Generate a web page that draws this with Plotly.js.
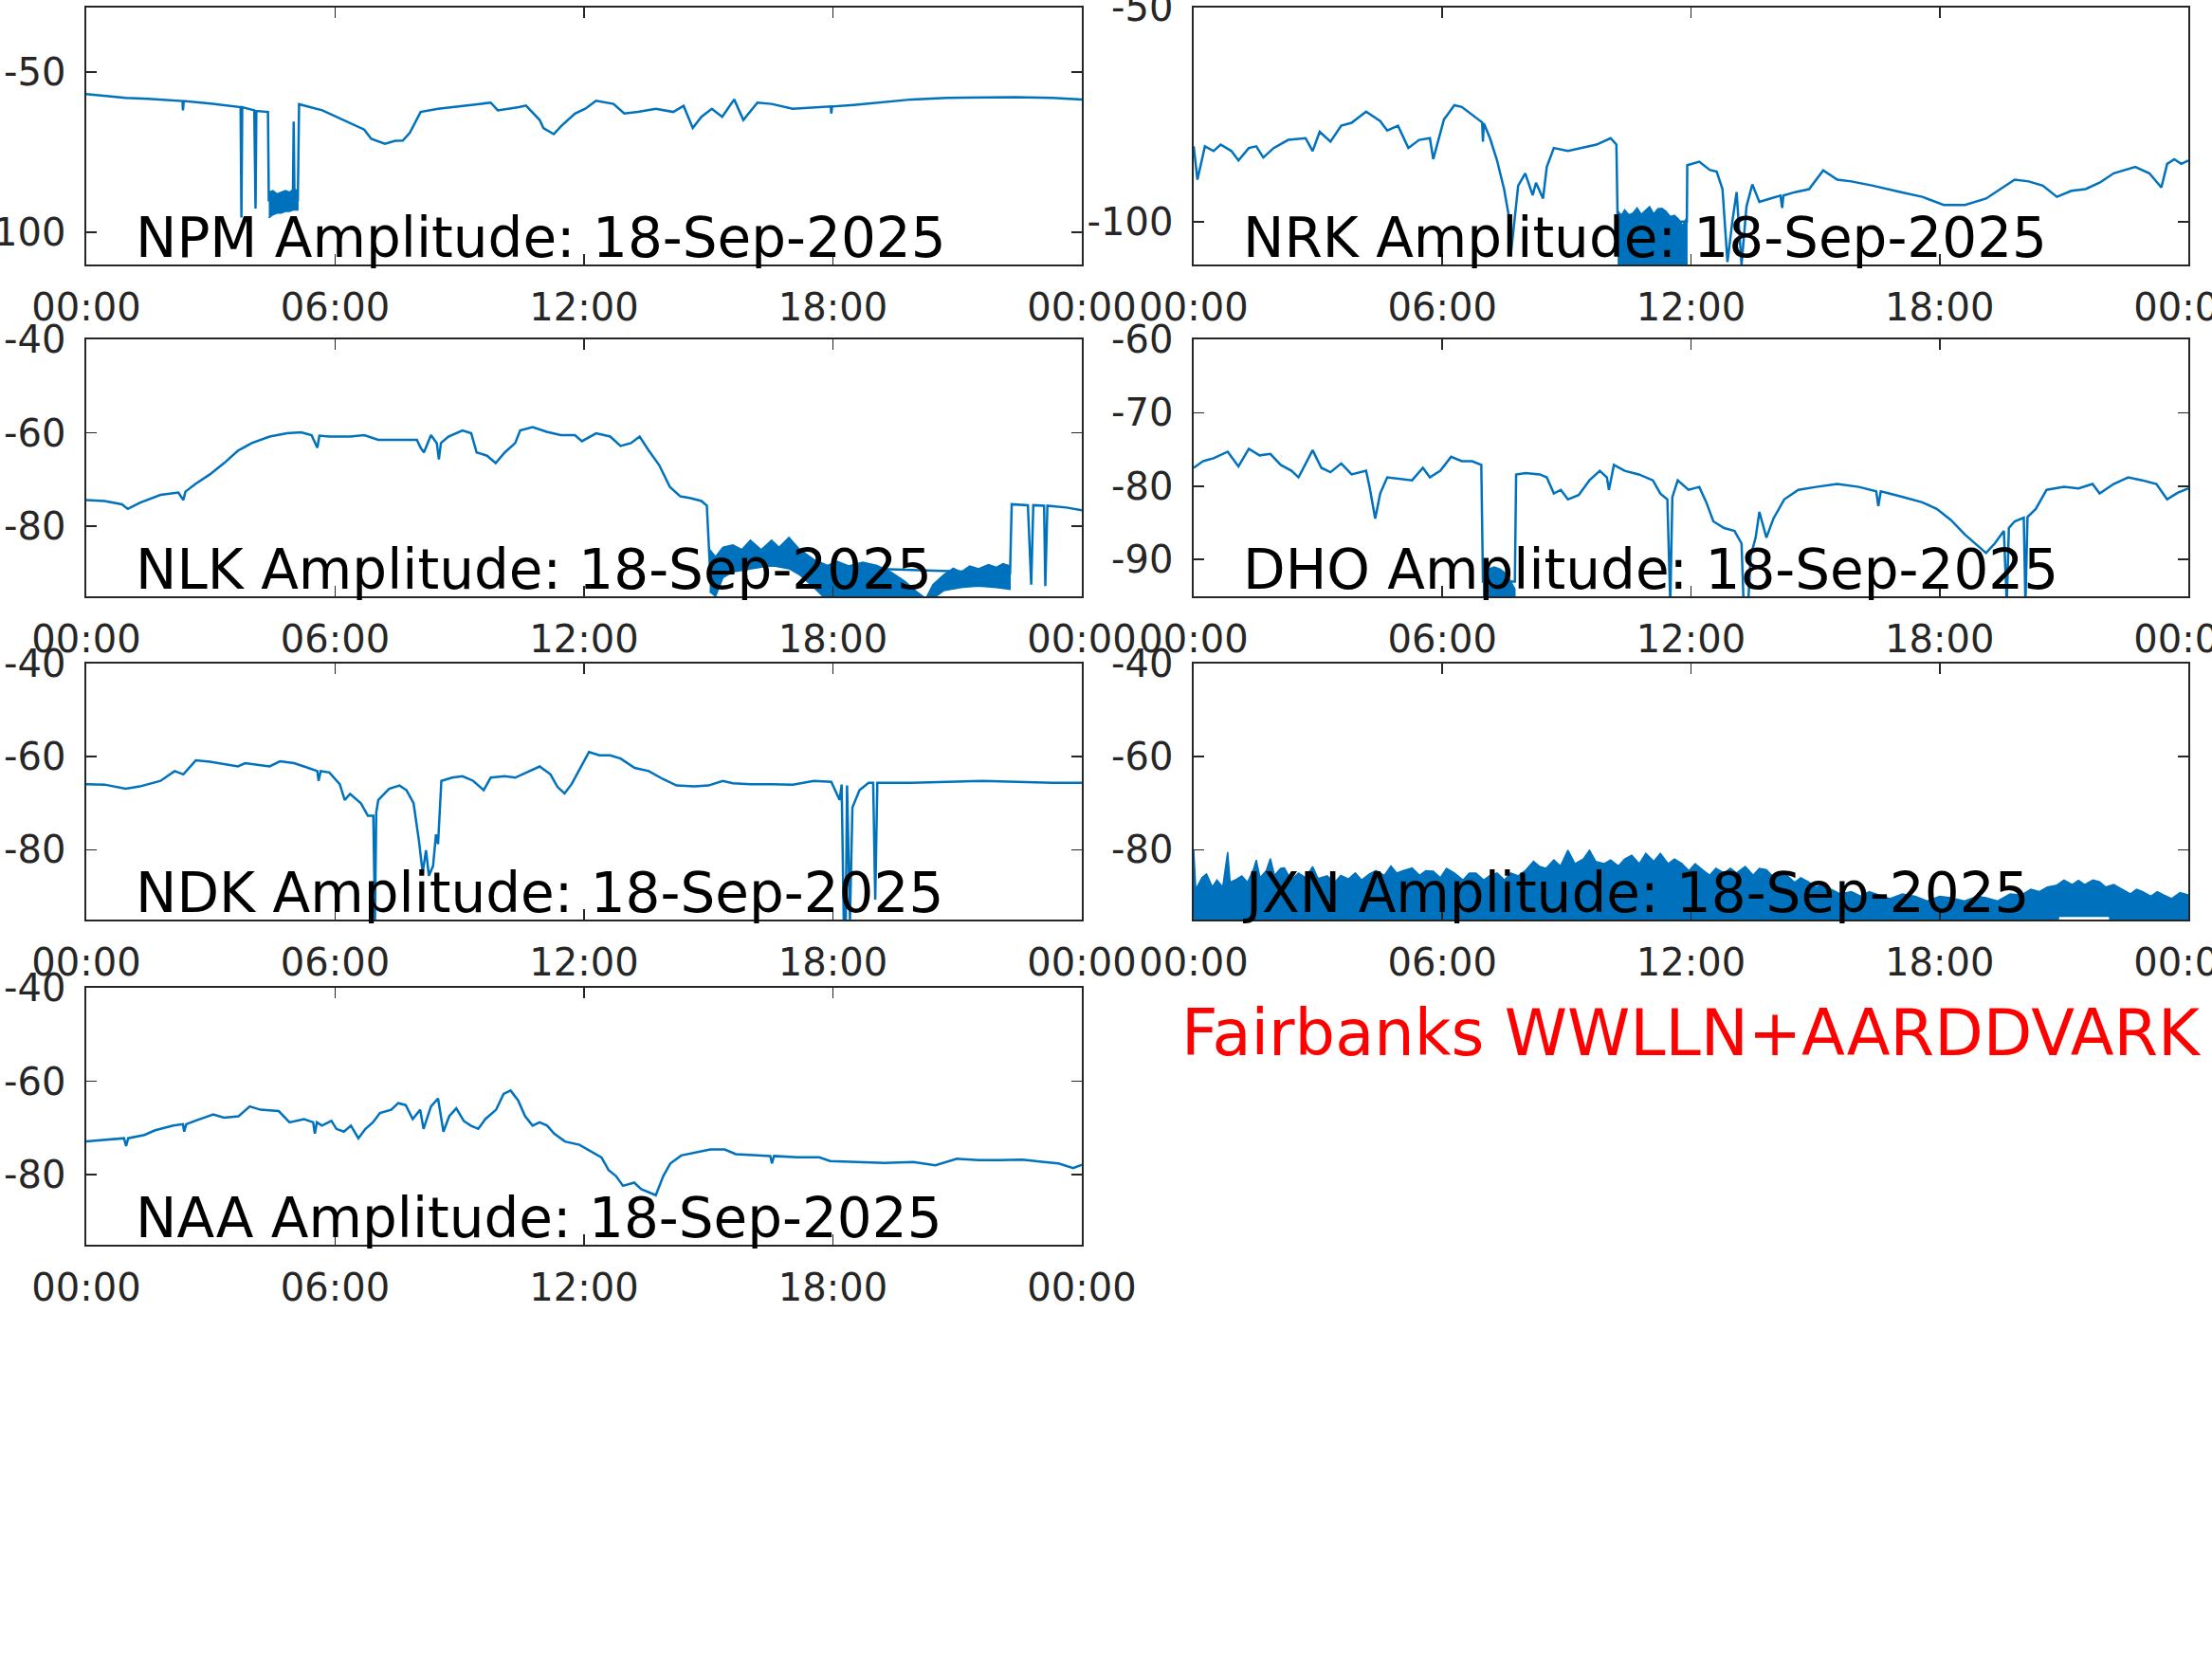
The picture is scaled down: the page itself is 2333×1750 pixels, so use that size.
<!DOCTYPE html>
<html>
<head>
<meta charset="utf-8">
<script src="https://cdn.plot.ly/plotly-3.0.1.min.js"></script>
<style>html,body{margin:0;padding:0;background:#fff;}#chart{width:2333px;height:1750px;}</style>
</head>
<body>
<div id="chart"></div>
<script>
// ---------- shared axis labels ----------
const hourTicks = [0, 6, 12, 18, 24];
const hourTickLabels = ['00:00', '06:00', '12:00', '18:00', '00:00'];
const dateLabel = '18-Sep-2025';
const stationNames = ['NPM', 'NRK', 'NLK', 'DHO', 'NDK', 'JXN', 'NAA'];
const footnote = 'Fairbanks WWLLN+AARDDVARK';

// ---------- NPM ----------
const npmHour = [0,0.5,0.95,1.5,2.1,2.32,2.33,2.35,3.0,3.4,3.72,3.74,3.76,4.05,4.08,4.1,4.33,4.38,4.4,4.98,5.0,5.02,5.1,5.13,5.69,6.2,6.7,6.87,7.2,7.45,7.63,7.8,8.06,8.48,9.07,9.75,9.92,10.2,10.43,10.6,10.93,11.02,11.27,11.44,11.78,12.03,12.29,12.71,12.97,13.3,13.73,14.15,14.4,14.62,14.83,15.08,15.33,15.62,15.84,16.18,16.52,17.03,17.54,17.95,17.96,17.98,18.5,19.06,19.9,20.75,21.6,22.4,23.3,24];
const npmDb = [-56.9,-57.5,-58.1,-58.4,-58.9,-59.1,-62,-59.1,-59.9,-60.5,-61.0,-95.4,-61.0,-62.0,-92.6,-62.2,-62.5,-62.5,-90,-90,-65.5,-90,-90,-60.1,-62,-65,-68,-70.9,-72.4,-71.5,-71.4,-69,-62.5,-61.5,-60.6,-59.6,-62,-61.5,-61,-60.5,-65,-67.5,-69.4,-67,-63,-61.5,-59,-60,-63,-62.5,-61.5,-62.5,-60.6,-67.5,-64,-61.5,-64,-58.6,-65,-59.6,-60,-61.5,-61,-60.8,-63,-60.8,-60.3,-59.6,-58.6,-58.1,-57.9,-57.9,-58.1,-58.6];
const npmBandHour = [4.4,4.5,4.6,4.7,4.8,4.9,5.0,5.1];
const npmBandHi = [-87.5,-87,-88,-87.5,-87,-87.5,-86.5,-87];
const npmBandLoHour = [4.4,4.5,4.6,4.7,4.8,4.9,5.0,5.1];
const npmBandLo = [-95.5,-94.5,-94,-94,-93.5,-93.5,-93,-93];

// ---------- NRK ----------
const nrkHour = [0,0.09,0.27,0.48,0.65,0.91,1.08,1.33,1.51,1.68,1.93,2.28,2.70,2.87,3.04,3.30,3.56,3.81,4.16,4.50,4.67,4.93,5.18,5.44,5.70,5.78,6.04,6.29,6.47,6.81,6.96,6.98,7.0,7.15,7.32,7.49,7.61,7.66,7.83,8.0,8.18,8.26,8.43,8.52,8.69,9.03,9.37,9.72,10.06,10.20,10.23,11.9,11.91,12.2,12.45,12.62,12.76,12.88,13.0,13.1,13.22,13.34,13.48,13.65,13.91,14.16,14.2,14.23,14.51,14.85,15.19,15.53,15.87,16.39,17.07,17.58,18.1,18.61,19.12,19.47,19.81,20.15,20.49,20.83,21.18,21.52,21.86,22.2,22.72,23.06,23.35,23.49,23.66,23.83,24];
const nrkDb = [-82.4,-90.2,-82.4,-83.5,-82.0,-83.5,-85.7,-82.8,-82.4,-85.0,-82.8,-80.9,-80.5,-83.5,-79.0,-81.3,-77.6,-76.9,-74.3,-76.5,-78.7,-77.6,-82.8,-80.9,-80.5,-85.4,-76.1,-72.8,-73.2,-75.7,-76.8,-81.3,-77,-80.5,-85.7,-92.4,-99.0,-107,-91.6,-88.7,-93.8,-90.9,-94.6,-87.2,-82.8,-83.5,-82.8,-82.0,-80.5,-82.0,-100,-100,-86.8,-86.0,-87.9,-88.3,-92.4,-109.4,-99.8,-93.1,-110,-96.4,-91.3,-95.4,-94.6,-93.9,-96.8,-93.9,-93.1,-92.4,-88.0,-90.2,-90.6,-91.6,-93.1,-94.2,-96.1,-96.1,-94.6,-92.4,-90.2,-90.6,-91.6,-94.2,-92.8,-92.4,-90.9,-88.7,-87.2,-88.7,-92.0,-86.5,-85.4,-86.5,-85.7];
const nrkBandHour = [10.23,10.32,10.4,10.5,10.6,10.7,10.8,10.9,11.0,11.1,11.2,11.3,11.4,11.5,11.6,11.7,11.8,11.9];
const nrkBandHi = [-97.5,-98.5,-97.2,-98.4,-98.0,-96.8,-98.3,-97.4,-96.5,-98.2,-97.0,-96.9,-97.6,-98.8,-98.5,-99.4,-100.9,-99];
const nrkBandLoHour = [10.23,11.9];
const nrkBandLo = [-111,-111];

// ---------- NLK ----------
const nlkHour = [0,0.44,0.86,1.0,1.29,1.79,2.22,2.34,2.39,2.64,2.98,3.32,3.66,3.99,4.42,4.84,5.18,5.43,5.57,5.62,5.86,6.36,6.70,7.04,7.55,7.97,8.06,8.14,8.31,8.45,8.50,8.55,8.73,9.07,9.28,9.41,9.66,9.87,10.09,10.34,10.46,10.76,11.10,11.44,11.78,11.95,12.29,12.63,12.88,13.13,13.34,13.56,13.81,14.07,14.32,14.57,14.83,14.96,15.03,22.27,22.31,22.7,22.78,22.83,23.09,23.12,23.17,23.63,24];
const nlkDb = [-74.4,-74.6,-75.3,-76.3,-75.0,-73.3,-72.8,-74.4,-72.6,-70.9,-68.9,-66.5,-63.8,-62.2,-60.8,-60.1,-59.9,-60.5,-63.2,-60.6,-60.8,-60.8,-60.5,-61.5,-61.5,-61.5,-63.2,-64.2,-60.5,-62.2,-65.7,-62.2,-60.8,-59.5,-60.1,-64.2,-64.9,-66.5,-64.2,-62.2,-59.5,-58.8,-59.8,-60.5,-60.5,-61.8,-60.1,-60.8,-62.8,-62.2,-60.8,-63.8,-66.9,-71.6,-73.6,-74.0,-74.6,-75.6,-88,-90,-75.3,-75.5,-92.5,-75.5,-75.6,-92.8,-75.6,-76.0,-76.6];
const nlkBandHour = [15.03,15.17,15.35,15.59,15.8,16.01,16.27,16.52,16.7,16.94,17.2,17.54,17.87,18.1,18.38,18.72,19.06,19.4,19.74,19.99,20.24,20.41,20.67,20.9,21.09,21.3,21.51,21.75,21.94,22.1,22.27];
const nlkBandHi = [-85,-86.5,-84.5,-84,-85,-83,-85,-83,-84.5,-82.4,-85,-87.1,-88.4,-87.5,-88.5,-87.7,-88.4,-89.8,-91.8,-93.8,-95.5,-92.5,-90.4,-89,-89.8,-88.5,-89.1,-88.2,-88.8,-88,-88.5];
const nlkBandLoHour = [15.03,15.17,15.35,15.59,16.01,16.52,16.94,17.2,17.54,17.87,20.24,20.41,20.67,21.09,21.51,21.94,22.27];
const nlkBandLo = [-94,-95,-91,-89.8,-89.1,-88.4,-89.1,-90.4,-93.1,-96,-96,-95.5,-93.8,-93.1,-92.8,-93.1,-93.5];

// ---------- DHO ----------
const dhoHour = [0,0.22,0.48,0.82,1.08,1.33,1.59,1.85,2.10,2.36,2.53,2.70,2.87,3.08,3.30,3.56,3.81,4.16,4.24,4.38,4.50,4.67,4.93,5.27,5.53,5.70,5.95,6.21,6.47,6.72,6.94,6.98,7.75,7.78,8.01,8.35,8.52,8.69,8.86,9.03,9.29,9.55,9.80,9.97,10.02,10.08,10.14,10.40,10.74,11.08,11.26,11.43,11.50,11.55,11.68,11.94,12.20,12.37,12.54,12.80,13.05,13.22,13.27,13.38,13.44,13.56,13.65,13.82,13.99,14.25,14.59,15.02,15.53,16.05,16.47,16.52,16.58,17.07,17.58,17.93,18.27,18.61,18.95,19.12,19.33,19.55,19.62,19.67,19.81,20.03,20.07,20.12,20.32,20.58,21.0,21.35,21.69,21.86,22.2,22.55,22.89,23.23,23.49,23.74,24];
const dhoDb = [-77.5,-76.6,-76.2,-75.3,-77.3,-74.9,-75.8,-75.6,-77.1,-77.9,-78.8,-76.9,-75.1,-77.5,-78.1,-76.9,-78.4,-77.9,-80.0,-84.4,-81.0,-78.8,-79.0,-79.2,-77.5,-78.8,-77.9,-76.0,-76.6,-76.6,-77.1,-93,-93,-78.4,-78.2,-78.4,-78.8,-81.0,-80.5,-81.8,-81.2,-79.2,-77.9,-78.8,-80.5,-78.8,-77.1,-77.9,-78.4,-79.2,-81.0,-81.8,-96,-81.5,-79.2,-80.5,-80.1,-82.2,-84.8,-85.7,-86.1,-87.8,-96,-96,-89.5,-87,-83.5,-87.0,-84.4,-81.8,-80.5,-80.1,-79.7,-80.1,-80.7,-82.7,-80.7,-81.4,-82.2,-83.1,-84.6,-86.6,-88.3,-89.1,-87.8,-86.1,-96,-85.7,-84.8,-84.3,-96,-84.2,-83.1,-80.5,-80.1,-80.3,-79.7,-81.0,-79.7,-78.8,-79.2,-79.7,-81.8,-80.9,-80.3];
const dhoBandHour = [6.98,7.1,7.25,7.4,7.55,7.7,7.75];
const dhoBandHi = [-92,-91.3,-91.0,-91.3,-92,-93.5,-94];
const dhoBandLoHour = [6.98,7.75];
const dhoBandLo = [-96,-96];

// ---------- NDK ----------
const ndkHour = [0,0.44,0.95,1.29,1.79,2.13,2.34,2.64,2.98,3.32,3.66,3.83,4.16,4.42,4.67,5.01,5.35,5.57,5.60,5.65,5.86,6.11,6.23,6.36,6.62,6.79,6.92,6.96,6.99,7.04,7.30,7.55,7.72,7.89,8.02,8.11,8.19,8.26,8.36,8.43,8.48,8.56,8.82,9.07,9.33,9.58,9.75,10.09,10.34,10.60,10.93,11.19,11.36,11.53,11.70,11.87,12.12,12.37,12.63,12.88,13.22,13.56,13.90,14.23,14.66,15.0,15.34,15.59,16.01,16.52,17.03,17.54,17.96,18.16,18.21,18.26,18.31,18.34,18.41,18.47,18.64,18.86,18.97,19.02,19.07,19.9,20.75,21.6,22.44,23.29,24];
const ndkDb = [-65.9,-66.0,-66.9,-66.4,-65.2,-63.1,-63.8,-60.8,-61.1,-61.6,-62.1,-61.4,-61.8,-62.1,-61.0,-61.4,-62.4,-63.1,-65.2,-63.1,-63.4,-65.9,-69.3,-68.0,-70.0,-72.7,-72.7,-95.1,-72.0,-69.3,-66.9,-66.2,-67.2,-70.0,-78.1,-84.9,-80.1,-85.6,-83.5,-76.7,-78.8,-65.2,-64.5,-64.2,-65.2,-67.2,-64.5,-64.2,-64.5,-63.5,-62.1,-63.8,-66.5,-67.9,-65.9,-63.1,-59.0,-59.7,-59.7,-60.4,-62.4,-63.1,-64.8,-66.2,-66.4,-66.2,-65.2,-65.7,-65.9,-65.9,-66.0,-65.2,-65.4,-69.3,-66,-95.1,-95.1,-66.2,-95.1,-70.9,-67.2,-65.6,-65.6,-90.7,-65.6,-65.6,-65.4,-65.2,-65.4,-65.6,-65.6];

// ---------- JXN (dense noise band: upper / lower envelope) ----------
const jxnBandHour = [0,0.05,0.2,0.31,0.45,0.56,0.7,0.82,0.88,1.0,1.16,1.3,1.45,1.51,1.6,1.75,1.85,1.95,2.1,2.19,2.35,2.53,2.7,2.87,3.0,3.22,3.4,3.55,3.73,3.9,4.05,4.24,4.4,4.6,4.76,4.9,5.05,5.27,5.45,5.6,5.78,5.95,6.1,6.29,6.5,6.65,6.81,7.0,7.15,7.32,7.5,7.65,7.83,8.0,8.2,8.35,8.5,8.69,8.85,9.03,9.2,9.4,9.55,9.7,9.9,10.06,10.25,10.4,10.57,10.75,10.91,11.1,11.26,11.45,11.6,11.77,11.95,12.1,12.28,12.45,12.6,12.8,12.95,13.1,13.31,13.5,13.65,13.82,14.0,14.15,14.33,14.5,14.65,14.85,15.0,15.2,15.36,15.6,15.87,16.1,16.3,16.56,16.8,17.1,17.41,17.7,18.0,18.27,18.6,18.9,19.12,19.4,19.7,19.98,20.2,20.4,20.6,20.83,21.0,21.2,21.35,21.5,21.7,21.86,22.0,22.2,22.37,22.6,22.75,22.89,23.1,23.25,23.4,23.6,23.8,24];
const jxnBandHi = [-80.0,-88.5,-86,-85.2,-88,-86.5,-88,-80.5,-87,-86.5,-85.6,-87,-84,-82.2,-86,-84.5,-81.9,-85.5,-84,-83.9,-86.5,-85.0,-86,-83.6,-86.2,-85.6,-87,-85.5,-86.3,-85,-86.5,-85.2,-84.5,-85.5,-83.5,-85,-84.5,-83.9,-85.5,-84.5,-84.6,-86,-84,-85.0,-86.5,-85,-85.0,-86.5,-85.5,-85.0,-86.5,-85,-85.6,-84.5,-82.5,-83.6,-84,-82.2,-83.5,-80.1,-83,-82,-80.1,-82.5,-83,-82.2,-83.5,-82,-81.2,-83,-80.8,-82.5,-80.8,-83,-82,-82.9,-84.5,-83,-84.3,-85.5,-84,-85.0,-84,-85,-83.6,-85.5,-84,-84.3,-86,-85,-85.6,-87,-86,-87.0,-88,-87.5,-88.4,-89.5,-89.0,-90,-89,-89.7,-90.5,-89.5,-90.0,-91,-90,-90.3,-91,-90,-90.3,-91,-89.5,-89.7,-88.5,-89,-88,-87.6,-86.5,-87.5,-86.6,-87.5,-86.5,-86.9,-88,-87.5,-88.3,-89.5,-88.5,-89.0,-90,-89,-89.7,-90.5,-89.2,-89.7];
const jxnBandLoHour = [0,20.85,20.87,22.1,22.12,24];
const jxnBandLo = [-96,-96,-94.3,-94.3,-96,-96];

// ---------- NAA ----------
const naaHour = [0,0.52,0.91,0.96,1.01,1.40,1.66,2.10,2.33,2.36,2.41,2.62,3.06,3.32,3.67,3.94,4.20,4.64,4.90,5.25,5.47,5.51,5.56,5.68,5.91,6.03,6.21,6.38,6.56,6.73,6.91,7.08,7.35,7.52,7.70,7.87,8.05,8.13,8.31,8.48,8.61,8.75,8.92,9.10,9.27,9.45,9.62,9.88,10.06,10.23,10.41,10.58,10.76,10.93,11.11,11.28,11.54,11.89,12.16,12.42,12.59,12.77,12.94,13.21,13.38,13.56,13.73,13.91,14.08,14.34,14.69,15.04,15.39,15.66,16.09,16.49,16.53,16.58,17.14,17.67,17.93,18.54,19.24,19.94,20.47,20.99,21.51,22.04,22.56,23.09,23.44,23.79,24];
const naaDb = [-72.9,-72.5,-72.2,-73.9,-72.2,-71.5,-70.5,-69.5,-69.2,-70.8,-69.2,-68.5,-67.1,-67.8,-67.5,-65.4,-66.1,-66.4,-68.8,-68.1,-68.8,-71.2,-68.8,-69.5,-68.5,-70.2,-70.8,-69.5,-72.2,-70.2,-68.8,-66.8,-66.1,-64.7,-65.1,-68.1,-66.1,-70.2,-65.4,-63.7,-70.8,-67.5,-65.8,-68.5,-69.5,-70.2,-68.1,-66.1,-62.7,-62.0,-64.1,-67.5,-69.5,-68.8,-69.5,-71.2,-72.9,-73.6,-74.9,-76.3,-79.0,-80.3,-82.4,-81.7,-83.1,-83.7,-84.4,-80.3,-77.6,-75.9,-75.3,-74.6,-74.6,-75.6,-75.8,-76.0,-77.6,-76.0,-76.3,-76.3,-77.1,-77.3,-77.5,-77.3,-78.0,-76.6,-76.9,-76.9,-76.8,-77.3,-77.6,-78.6,-77.9];

// ---------- y-axis ranges and ticks per panel ----------
const yRanges = [[-110,-30],[-110,-50],[-95,-40],[-95,-60],[-95,-40],[-95,-40],[-95,-40]];
const yTickVals = [[-100,-50],[-100,-50],[-80,-60,-40],[-90,-80,-70,-60],[-80,-60,-40],[-80,-60,-40],[-80,-60,-40]];
const yTickText = [['-100','-50'],['-100','-50'],['-80','-60','-40'],['-90','-80','-70','-60'],['-80','-60','-40'],['-80','-60','-40'],['-80','-60','-40']];

// ---------- build ----------
const W = 2333, H = 1750;
const colX = [[91, 1141], [1259, 2308]];
const rowY = [[8, 279], [358, 629], [700, 970], [1042, 1313]];
const panelPos = [[0,0],[1,0],[0,1],[1,1],[0,2],[1,2],[0,3]];
const lineColor = '#0072BD';
const axColor = '#262626';
const fontFam = '"DejaVu Sans", "Liberation Sans", sans-serif';

const lines = [[npmHour,npmDb],[nrkHour,nrkDb],[nlkHour,nlkDb],[dhoHour,dhoDb],[ndkHour,ndkDb],null,[naaHour,naaDb]];
const bands = [
  [npmBandHour,npmBandHi,npmBandLoHour,npmBandLo],
  [nrkBandHour,nrkBandHi,nrkBandLoHour,nrkBandLo],
  [nlkBandHour,nlkBandHi,nlkBandLoHour,nlkBandLo],
  [dhoBandHour,dhoBandHi,dhoBandLoHour,dhoBandLo],
  null,
  [jxnBandHour,jxnBandHi,jxnBandLoHour,jxnBandLo],
  null];

const data = [];
const layout = {
  width: W, height: H,
  margin: {l: 0, r: 0, t: 0, b: 0},
  paper_bgcolor: '#ffffff', plot_bgcolor: '#ffffff',
  showlegend: false,
  annotations: []
};

for (let i = 0; i < 7; i++) {
  const s = i === 0 ? '' : String(i + 1);
  const xa = 'x' + s, ya = 'y' + s;
  const [c, r] = panelPos[i];
  const xd = [colX[c][0] / W, colX[c][1] / W];
  const yd = [1 - rowY[r][1] / H, 1 - rowY[r][0] / H];
  const common = {
    showline: true, mirror: 'ticks', linecolor: axColor, linewidth: 1.6,
    ticks: 'inside', ticklen: 11, tickwidth: 1.6, tickcolor: axColor,
    showgrid: false, zeroline: false, fixedrange: true,
    tickfont: {family: fontFam, size: 40, color: axColor},
    tickmode: 'array', ticklabeloverflow: 'allow'
  };
  layout['xaxis' + s] = Object.assign({}, common, {
    domain: xd, anchor: ya, range: [0, 24],
    tickvals: hourTicks, ticktext: hourTickLabels, ticklabelstandoff: 9
  });
  layout['yaxis' + s] = Object.assign({}, common, {
    domain: yd, anchor: xa, range: yRanges[i],
    tickvals: yTickVals[i], ticktext: yTickText[i], ticklabelstandoff: 12
  });
  if (bands[i]) {
    const [bh, hi, lh, lo] = bands[i];
    data.push({
      type: 'scatter', mode: 'lines', xaxis: xa, yaxis: ya,
      x: bh.concat(lh.slice().reverse()),
      y: hi.concat(lo.slice().reverse()),
      fill: 'toself', fillcolor: lineColor,
      line: {color: lineColor, width: 1.5}, hoverinfo: 'skip'
    });
  }
  if (lines[i]) {
    data.push({
      type: 'scatter', mode: 'lines', xaxis: xa, yaxis: ya,
      x: lines[i][0], y: lines[i][1],
      line: {color: lineColor, width: 2.5}, hoverinfo: 'skip'
    });
  }
  layout.annotations.push({
    xref: xa + ' domain', yref: ya + ' domain', x: 50 / 1050, y: 0,
    xanchor: 'left', yanchor: 'bottom', yshift: -8, showarrow: false,
    text: stationNames[i] + ' Amplitude: ' + dateLabel,
    font: {family: fontFam, size: 58, color: '#000000'}
  });
}

layout.annotations.push({
  xref: 'paper', yref: 'paper', x: 1244 / W, y: 1 - 1131 / H,
  xanchor: 'left', yanchor: 'bottom', showarrow: false,
  text: footnote,
  font: {family: fontFam, size: 67, color: '#ff0000'}
});

Plotly.newPlot('chart', data, layout, {staticPlot: true, displayModeBar: false});
</script>
</body>
</html>
